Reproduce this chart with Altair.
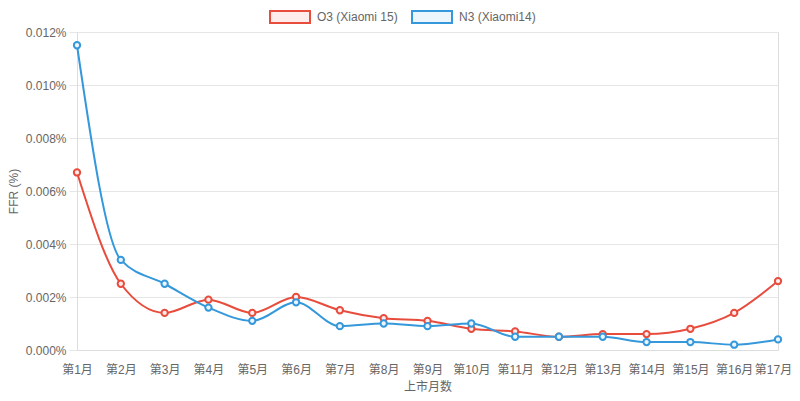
import altair as alt
import pandas as pd

months = [f"第{i}月" for i in range(1, 18)]
series_names = ["O3 (Xiaomi 15)", "N3 (Xiaomi14)"]
o3_values = [0.0067, 0.0025, 0.0014, 0.0019, 0.0014, 0.0020, 0.0015, 0.0012, 0.0011,
             0.0008, 0.0007, 0.0005, 0.0006, 0.0006, 0.0008, 0.0014, 0.0026]
n3_values = [0.0115, 0.0034, 0.0025, 0.0016, 0.0011, 0.0018, 0.0009, 0.0010, 0.0009,
             0.0010, 0.0005, 0.0005, 0.0005, 0.0003, 0.0003, 0.0002, 0.0004]
y_ticks = [0.0, 0.002, 0.004, 0.006, 0.008, 0.010, 0.012]

line_colors = ["#e74c3c", "#3498db"]
fill_colors = ["#fdeceb", "#ebf5fb"]

rows = []
for name, vals in zip(series_names, [o3_values, n3_values]):
    for m, v in zip(months, vals):
        rows.append({"month": m, "series": name, "ffr": v})
df = pd.DataFrame(rows)

FONT = "Liberation Sans, Noto Sans CJK SC, sans-serif"
box_path = "M-1,-0.3H1V0.3H-1Z"

legend_kw = dict(
    orient="none", legendX=192, legendY=-36, direction="horizontal",
    symbolType=box_path, symbolSize=1600, symbolStrokeWidth=2,
    labelFont=FONT, labelFontSize=12, labelColor="#666666",
    labelOffset=6, columnPadding=10, padding=0, title=None,
)

x_enc = alt.X("month:N", sort=months, title="上市月数",
              scale=alt.Scale(domain=months, padding=0),
              axis=alt.Axis(labelAngle=0, ticks=False, grid=False, domainColor="#dddddd",
                            labelPadding=14, titlePadding=6, labelFont=FONT, titleFont=FONT,
                            labelFontSize=12, titleFontSize=12, labelColor="#666666",
                            titleColor="#666666", titleFontWeight="normal",
                            labelOffset={"condition": {"test": "datum.index >= 1", "value": -5},
                                         "value": 0}))
y_enc = alt.Y("ffr:Q", title="FFR (%)",
              scale=alt.Scale(domain=[0, 0.012], nice=False),
              axis=alt.Axis(values=y_ticks, labelExpr="format(datum.value, '.3f') + '%'",
                            grid=True, gridColor="#e6e6e6", tickColor="#e6e6e6", tickSize=8,
                            domainColor="#dddddd", labelPadding=3, titlePadding=5,
                            labelFont=FONT, titleFont=FONT, labelFontSize=12, titleFontSize=12,
                            labelColor="#666666", titleColor="#666666",
                            titleFontWeight="normal"))

stroke_enc = alt.Stroke("series:N", sort=series_names,
                        scale=alt.Scale(domain=series_names, range=line_colors),
                        legend=alt.Legend(**legend_kw))
fill_enc = alt.Fill("series:N", sort=series_names,
                    scale=alt.Scale(domain=series_names, range=fill_colors),
                    legend=alt.Legend(**legend_kw))

lines = alt.Chart(df).mark_line(interpolate="monotone", strokeWidth=2).encode(
    x=x_enc, y=y_enc, stroke=stroke_enc, detail="series:N"
)
points = alt.Chart(df).mark_point(filled=False, size=40, strokeWidth=2, opacity=1, fillOpacity=1).encode(
    x=x_enc, y=y_enc, stroke=stroke_enc, fill=fill_enc
)

chart = alt.layer(lines, points).properties(
    width=701, height=318,
    autosize=alt.AutoSizeParams(type="none"),
    padding={"left": 69, "top": 24, "right": 14, "bottom": 43},
).configure_view(stroke=None).configure(background="white")

chart.save("out.html", embed_options={"renderer": "svg", "actions": False})
